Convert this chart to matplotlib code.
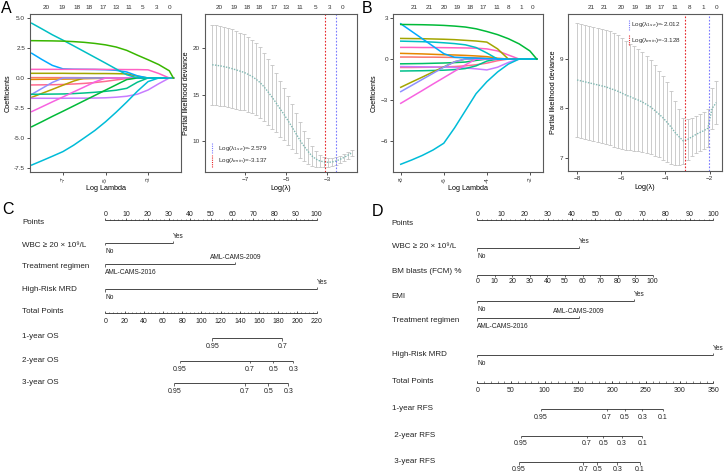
import numpy as np
import matplotlib
matplotlib.use("Agg")
import matplotlib.pyplot as plt

plt.rcParams['font.family'] = ['Liberation Sans', 'DejaVu Sans']

W, H = 726, 473

# ---------------- panel A: lasso coefficient paths ----------------
a_grid = [-8.47, -8.0, -7.5, -7.0, -6.5, -6.0, -5.5, -5.0, -4.5, -4.0, -3.5, -3.0, -2.5, -2.0, -1.81]
a_red = [0.03, 0.03, 0.03, 0.03, 0.03, 0.02, 0.02, 0.02, 0.02, 0.01, 0.01, 0, 0, 0, 0]
a_orange = [-0.12, -0.11, -0.10, -0.09, -0.08, -0.06, -0.04, -0.02, 0, 0, 0, 0, 0, 0, 0]
a_salmon = [-0.58, -0.57, -0.56, -0.54, -0.50, -0.45, -0.38, -0.28, -0.16, -0.05, 0, 0, 0, 0, 0]
a_cyan_top = [4.56, 4.10, 3.60, 3.15, 2.68, 2.20, 1.72, 1.24, 0.75, 0.27, 0, 0, 0, 0, 0]
a_green_top = [3.11, 3.10, 3.09, 3.07, 3.03, 2.97, 2.88, 2.76, 2.58, 2.30, 1.90, 1.52, 1.12, 0.60, 0]
a_blue = [2.06, 1.55, 1.05, 0.76, 0.73, 0.72, 0.71, 0.69, 0.64, 0.50, 0.18, 0, 0, 0, 0]
a_olive_top = [0.39, 0.39, 0.39, 0.39, 0.38, 0.38, 0.37, 0.37, 0.36, 0.34, 0.15, 0, 0, 0, 0]
a_olive_low = [-1.61, -1.29, -0.95, -0.60, -0.26, 0, 0, 0, 0, 0, 0, 0, 0, 0, 0]
a_purple = [-1.69, -1.69, -1.69, -1.69, -1.68, -1.68, -1.67, -1.65, -1.60, -1.52, -1.35, -1.00, -0.48, 0, 0]
a_violet = [-1.36, -0.88, -0.37, 0, 0, 0, 0, 0, 0, 0, 0, 0, 0, 0, 0]
a_green_mid = [-1.36, -1.35, -1.34, -1.33, -1.30, -1.25, -1.19, -1.11, -1.02, -0.86, -0.35, 0, 0, 0, 0]
a_magenta = [-2.80, -2.41, -1.99, -1.58, -1.16, -0.75, -0.33, 0, 0, 0, 0, 0, 0, 0, 0]
a_green_low = [-4.06, -3.65, -3.20, -2.77, -2.33, -1.89, -1.45, -1.01, -0.57, -0.13, 0, 0, 0, 0, 0]
a_cyan_low = [-7.25, -6.90, -6.52, -6.13, -5.60, -4.99, -4.37, -3.65, -2.85, -2.00, -1.10, -0.30, 0, 0, 0]
a_pink_top = [0.72, 0.72, 0.72, 0.72, 0.72, 0.72, 0.72, 0.71, 0.71, 0.70, 0.70, 0.68, 0.38, 0, 0]

a_df = [20, 19, 18, 18, 17, 13, 11, 5, 3, 0]
a_coef_df_x = [-7.77, -7.02, -6.35, -5.78, -5.12, -4.51, -3.89, -3.24, -2.62, -2.01]
a_cv_df_x = [-8.25, -7.52, -6.89, -6.31, -5.58, -5.0, -4.33, -3.55, -2.87, -2.27]

# panel A: cross-validation curve
a_cv_x = [-8.59, -8.40, -8.20, -8.01, -7.82, -7.62, -7.43, -7.24, -7.04, -6.85, -6.66, -6.46,
          -6.27, -6.08, -5.88, -5.69, -5.50, -5.30, -5.11, -4.92, -4.72, -4.53, -4.34, -4.14,
          -3.95, -3.76, -3.56, -3.37, -3.17, -2.98, -2.79, -2.59, -2.40, -2.21, -2.01, -1.82]
a_cv_mean = [18.20, 18.15, 18.08, 18.00, 17.90, 17.78, 17.65, 17.52, 17.38, 17.18, 16.95, 16.65,
             16.30, 15.85, 15.30, 14.75, 14.15, 13.50, 12.90, 12.25, 11.55, 10.85, 10.15, 9.50,
             8.95, 8.45, 8.10, 7.90, 7.80, 7.75, 7.78, 7.88, 8.05, 8.25, 8.50, 8.75]
a_cv_se = [4.30, 4.30, 4.28, 4.26, 4.23, 4.20, 4.16, 4.12, 4.07, 4.01, 3.94, 3.86,
           3.77, 3.66, 3.53, 3.38, 3.20, 3.00, 2.80, 2.60, 2.40, 2.15, 1.90, 1.62,
           1.35, 1.08, 0.85, 0.68, 0.57, 0.50, 0.46, 0.42, 0.39, 0.37, 0.35, 0.33]
a_lam_1se = -2.579
a_lam_min = -3.137

# ---------------- panel B ----------------
b_grid = [-8.0, -7.5, -7.0, -6.5, -6.0, -5.5, -5.0, -4.5, -4.0, -3.5, -3.0, -2.5, -2.0, -1.68]
b_red = [0.15, 0.15, 0.14, 0.14, 0.13, 0.12, 0.11, 0.09, 0.05, 0, 0, 0, 0, 0]
b_green_mid = [-0.35, -0.34, -0.33, -0.31, -0.29, -0.26, -0.22, -0.10, 0, 0, 0, 0, 0, 0]
b_pink_low = [-0.62, -0.62, -0.61, -0.60, -0.58, -0.55, -0.50, -0.42, -0.30, -0.12, 0, 0, 0, 0]
b_green_top = [2.55, 2.54, 2.53, 2.51, 2.48, 2.43, 2.36, 2.23, 2.03, 1.80, 1.50, 1.12, 0.60, 0]
b_blue = [2.60, 2.05, 1.50, 0.95, 0.40, 0.13, 0.10, 0.07, 0.04, 0, 0, 0, 0, 0]
b_olive_top = [1.52, 1.51, 1.50, 1.48, 1.46, 1.43, 1.38, 1.33, 1.25, 0.75, 0, 0, 0, 0]
b_teal = [1.32, 1.30, 1.28, 1.25, 1.20, 1.14, 1.05, 0.85, 0.45, 0, 0, 0, 0, 0]
b_pink_top = [0.86, 0.86, 0.85, 0.85, 0.84, 0.83, 0.82, 0.80, 0.75, 0.60, 0.30, 0, 0, 0]
b_orange = [0.42, 0.40, 0.38, 0.35, 0.32, 0.30, 0.27, 0.23, 0.18, 0.06, 0, 0, 0, 0]
b_lavender = [-0.55, -0.56, -0.57, -0.58, -0.60, -0.62, -0.66, -0.72, -0.80, -0.60, -0.25, 0, 0, 0]
b_green_low = [-0.88, -0.87, -0.86, -0.84, -0.82, -0.78, -0.70, -0.50, -0.15, 0, 0, 0, 0, 0]
b_olive_low = [-2.08, -1.70, -1.33, -0.95, -0.58, -0.20, 0, 0, 0, 0, 0, 0, 0, 0]
b_violet = [-2.40, -1.95, -1.50, -1.05, -0.60, -0.20, 0, 0, 0, 0, 0, 0, 0, 0]
b_magenta = [-3.26, -2.79, -2.32, -1.84, -1.37, -0.90, -0.43, 0, 0, 0, 0, 0, 0, 0]
b_cyan_low = [-7.75, -7.44, -7.10, -6.70, -6.20, -5.07, -3.81, -2.55, -1.67, -0.95, -0.37, 0, 0, 0]

b_df = [21, 21, 20, 19, 18, 17, 11, 8, 1, 0]
b_coef_df_x = [-7.39, -6.66, -6.0, -5.38, -4.77, -4.18, -3.54, -2.97, -2.41, -1.87]
b_cv_df_x = [-7.35, -6.75, -6.0, -5.39, -4.79, -4.18, -3.58, -2.9, -2.3, -1.69]

b_cv_x = [-8.00, -7.81, -7.63, -7.44, -7.26, -7.07, -6.89, -6.70, -6.52, -6.33, -6.15, -5.96,
          -5.78, -5.59, -5.41, -5.22, -5.04, -4.85, -4.67, -4.48, -4.30, -4.11, -3.93, -3.74,
          -3.56, -3.37, -3.19, -3.00, -2.82, -2.63, -2.45, -2.26, -2.08, -1.89, -1.70]
b_cv_mean = [8.58, 8.56, 8.54, 8.52, 8.50, 8.48, 8.46, 8.44, 8.41, 8.38, 8.35, 8.31,
             8.27, 8.24, 8.20, 8.17, 8.13, 8.08, 8.03, 7.96, 7.89, 7.81, 7.72, 7.62,
             7.51, 7.42, 7.34, 7.37, 7.42, 7.47, 7.51, 7.55, 7.60, 8.00, 8.12]
b_cv_se = [1.16, 1.16, 1.16, 1.16, 1.16, 1.16, 1.16, 1.16, 1.16, 1.16, 1.15, 1.13,
           1.11, 1.08, 1.06, 1.04, 1.02, 0.99, 0.96, 0.92, 0.88, 0.85, 0.81, 0.74,
           0.65, 0.56, 0.47, 0.42, 0.38, 0.37, 0.37, 0.37, 0.38, 0.42, 0.43]
b_lam_1se = -2.012
b_lam_min = -3.128

# ---------------- panel C: OS nomogram ----------------
c_points_ticks = [0, 10, 20, 30, 40, 50, 60, 70, 80, 90, 100]
c_wbc_pts = [0, 32.0]
c_wbc_lab = ['No', 'Yes']
c_reg_pts = [0, 61.5]
c_reg_lab = ['AML-CAMS-2016', 'AML-CAMS-2009']
c_mrd_pts = [0, 100]
c_mrd_lab = ['No', 'Yes']
c_total_ticks = [0, 20, 40, 60, 80, 100, 120, 140, 160, 180, 200, 220]
c_os1_prob = ['0.95', '0.7']
c_os1_tp = [111.3, 184.2]
c_os2_prob = ['0.95', '0.7', '0.5', '0.3']
c_os2_tp = [77.7, 150.2, 174.8, 195.6]
c_os3_prob = ['0.95', '0.7', '0.5', '0.3']
c_os3_tp = [71.8, 145.0, 169.6, 190.4]

# ---------------- panel D: RFS nomogram ----------------
d_points_ticks = [0, 10, 20, 30, 40, 50, 60, 70, 80, 90, 100]
d_wbc_pts = [0, 43.1]
d_wbc_lab = ['No', 'Yes']
d_blast_pct = [0, 10, 20, 30, 40, 50, 60, 70, 80, 90, 100]
d_blast_max_pts = 74.3
d_emi_pts = [0, 66.4]
d_emi_lab = ['No', 'Yes']
d_reg_pts = [0, 43.1]
d_reg_lab = ['AML-CAMS-2016', 'AML-CAMS-2009']
d_mrd_pts = [0, 100]
d_mrd_lab = ['No', 'Yes']
d_total_ticks = [0, 50, 100, 150, 200, 250, 300, 350]
d_rfs1_prob = ['0.95', '0.7', '0.5', '0.3', '0.1']
d_rfs1_tp = [94.5, 191.9, 219.0, 244.7, 275.0]
d_rfs2_prob = ['0.95', '0.7', '0.5', '0.3', '0.1']
d_rfs2_tp = [64.4, 162.2, 186.9, 214.1, 244.7]
d_rfs3_prob = ['0.95', '0.7', '0.5', '0.3', '0.1']
d_rfs3_tp = [61.4, 157.2, 178.0, 207.6, 241.3]

RED = '#e8262a'
BLUE = '#7a7aff'
FRAME = '#5a5a5a'
LC = '#2b2b2b'


def box(l, t, r, b):
    return [l / W, 1 - b / H, (r - l) / W, (b - t) / H]


def style(ax):
    for s in ax.spines.values():
        s.set_color(FRAME)
        s.set_linewidth(0.8)
    ax.tick_params(length=2, width=0.6, labelsize=4.6, colors='#333333', pad=1.5)


def df_labels(ax, xs, counts):
    for x, n in zip(xs, counts):
        ax.text(x, 1.025, str(n), transform=ax.get_xaxis_transform(),
                ha='center', va='bottom', fontsize=4.6, color='#333333')


def coef_panel(ax, grid, paths, xticks, df_x, df):
    for vals, col in paths:
        ax.plot(grid, vals, color=col, lw=1.1)
    style(ax)
    ax.set_xticks(xticks)
    ax.set_xticklabels([str(t) for t in xticks], rotation=90)
    ax.set_xlabel('Log Lambda', fontsize=5.2, labelpad=2)
    ax.set_ylabel('Coefficients', fontsize=5.2, labelpad=2)
    df_labels(ax, df_x, df)


def cv_panel(ax, x, mean, se, lmin, l1se, xticks, yticks, df_x, df):
    ax.errorbar(x, mean, yerr=se, fmt='none', ecolor='#c4c4c4', elinewidth=0.6,
                capsize=1.7, capthick=0.6)
    ax.plot(x, mean, ls=(0, (1, 1)), color='#7fb8b2', lw=1.0)
    ax.axvline(lmin, color=RED, ls=(0, (1.5, 1.5)), lw=0.8)
    ax.axvline(l1se, color=BLUE, ls=(0, (1.5, 1.5)), lw=0.8)
    style(ax)
    ax.set_xticks(xticks)
    ax.set_yticks(yticks)
    ax.set_xlabel('Log(λ)', fontsize=5.2, labelpad=2)
    ax.set_ylabel('Partial likelihood deviance', fontsize=5.2, labelpad=2)
    df_labels(ax, df_x, df)


def cv_key(ax, mx, tx, y_blue, y_red, l1se, lmin):
    tr = ax.transAxes
    ax.plot([mx, mx], y_blue, color=BLUE, ls=(0, (1, 1)), lw=0.8, transform=tr)
    ax.plot([mx, mx], y_red, color=RED, ls=(0, (1, 1)), lw=0.8, transform=tr)
    ax.text(tx, np.mean(y_blue), 'Log(λ$_{1se}$)=%.3f' % l1se, transform=tr,
            fontsize=4.6, va='center', color='#333333')
    ax.text(tx, np.mean(y_red), 'Log(λ$_{min}$)=%.3f' % lmin, transform=tr,
            fontsize=4.6, va='center', color='#333333')


fig = plt.figure(figsize=(W / 100, H / 100), dpi=100)

# A coefficients
axA1 = fig.add_axes(box(30, 14, 181, 172))
a_paths = [(a_red, '#F8766D'), (a_orange, '#E58700'), (a_salmon, '#FF6C91'),
           (a_olive_top, '#A3A500'), (a_olive_low, '#B79F00'), (a_violet, '#8F91FF'),
           (a_green_mid, '#00C08B'), (a_purple, '#C77CFF'), (a_magenta, '#F763E0'),
           (a_green_low, '#00BA38'), (a_cyan_low, '#00BCD8'), (a_blue, '#00A9FF'),
           (a_pink_top, '#FF61C3'), (a_cyan_top, '#00BFC4'), (a_green_top, '#39B600')]
coef_panel(axA1, a_grid, a_paths, [-7, -5, -3], a_coef_df_x, a_df)
axA1.set_xlim(-8.55, -1.45)
axA1.set_ylim(-7.83, 5.33)
axA1.set_yticks([-7.5, -5.0, -2.5, 0.0, 2.5, 5.0])
axA1.set_yticklabels(['-7.5', '-5.0', '-2.5', '0.0', '2.5', '5.0'])

# A cross validation
axA2 = fig.add_axes(box(205, 14, 357, 172))
cv_panel(axA2, a_cv_x, a_cv_mean, a_cv_se, a_lam_min, a_lam_1se, [-7, -5, -3], [10, 15, 20],
         a_cv_df_x, a_df)
axA2.set_xlim(-8.94, -1.56)
axA2.set_ylim(6.71, 23.64)
cv_key(axA2, 0.046, 0.086, [0.118, 0.182], [0.033, 0.108], a_lam_1se, a_lam_min)

# B coefficients
axB1 = fig.add_axes(box(393, 14, 543, 172))
b_paths = [(b_red, '#F8766D'), (b_green_mid, '#00BE67'), (b_pink_low, '#FF6C91'),
           (b_orange, '#E58700'), (b_lavender, '#C77CFF'), (b_green_low, '#00C08B'),
           (b_olive_low, '#A3A500'), (b_violet, '#8F91FF'), (b_magenta, '#F763E0'),
           (b_pink_top, '#FF61C3'), (b_teal, '#00BFC4'), (b_olive_top, '#A3A500'),
           (b_blue, '#00A9FF'), (b_cyan_low, '#00BCD8'), (b_green_top, '#00BA38')]
coef_panel(axB1, b_grid, b_paths, [-8, -6, -4, -2], b_coef_df_x, b_df)
axB1.set_xlim(-8.36, -1.39)
axB1.set_ylim(-8.32, 3.32)
axB1.set_yticks([-6, -3, 0, 3])

# B cross validation
axB2 = fig.add_axes(box(568, 14, 722, 171))
cv_panel(axB2, b_cv_x, b_cv_mean, b_cv_se, b_lam_min, b_lam_1se, [-8, -6, -4, -2], [7, 8, 9],
         b_cv_df_x, b_df)
axB2.set_xlim(-8.41, -1.44)
axB2.set_ylim(6.73, 9.92)
cv_key(axB2, 0.396, 0.41, [0.90, 0.965], [0.80, 0.866], b_lam_1se, b_lam_min)

# panel letters
for lab, x, y in [('A', 1, 1), ('B', 362, 1), ('C', 2, 202), ('D', 372, 204)]:
    fig.text(x / W, 1 - y / H, lab, fontsize=11.5, ha='left', va='top')


# ---------------- nomogram helpers ----------------
def nomo_axes(l_px, r_px, zero_px, px_per_pt):
    ax = fig.add_axes(box(l_px, 200, r_px, H))
    ax.set_xlim((l_px - zero_px) / px_per_pt, (r_px - zero_px) / px_per_pt)
    ax.set_ylim(H, 200)
    ax.axis('off')
    return ax


def row_name(ax, xfrac, y, text):
    ax.text(xfrac, y, text, transform=ax.get_yaxis_transform(), fontsize=5.8,
            ha='left', va='center', color='#222222')


def scale_row(ax, y, xs, labels, up, dy, minor=None, fs=5):
    sgn = -1 if up else 1
    ax.plot([min(xs), max(xs)], [y, y], color=LC, lw=0.6, solid_capstyle='butt')
    ax.vlines(xs, y, y + sgn * 2.2, color=LC, lw=0.5)
    if minor is not None:
        ax.vlines(minor, y, y + sgn * 1.3, color=LC, lw=0.4)
    for x, t in zip(xs, labels):
        ax.text(x, y + dy, t, ha='center', va='center', fontsize=fs, color='#222222')


def cat_row(ax, y, xs, labels, end_ha='left'):
    ax.plot(xs, [y, y], color=LC, lw=0.6, solid_capstyle='butt')
    ax.vlines([xs[0]], y, y + 2.2, color=LC, lw=0.5)
    ax.vlines([xs[1]], y, y - 2.2, color=LC, lw=0.5)
    ax.text(xs[0], y + 8.5, labels[0], ha='left', va='center', fontsize=4.8, color='#222222')
    ax.text(xs[1], y - 6.5, labels[1], ha=end_ha, va='center', fontsize=4.8, color='#222222')


def minor_ticks(lo, hi, step):
    return np.arange(lo, hi + step / 2, step)


# ---------------- C ----------------
axC = nomo_axes(0, 360, 105.3, 2.114)
lx = 22 / 360
c_tp = 100 / c_total_ticks[-1]
row_name(axC, lx, 222.7, 'Points')
scale_row(axC, 220, c_points_ticks, [str(v) for v in c_points_ticks], True, -6,
          minor=minor_ticks(0, 100, 2))
row_name(axC, lx, 245, 'WBC ≥ 20 × 10⁹/L')
cat_row(axC, 242.7, c_wbc_pts, c_wbc_lab)
row_name(axC, lx, 266.7, 'Treatment regimen')
cat_row(axC, 264.3, c_reg_pts, c_reg_lab, end_ha='center')
row_name(axC, lx, 289.3, 'High-Risk MRD')
cat_row(axC, 289.3, c_mrd_pts, c_mrd_lab)
row_name(axC, lx, 311.7, 'Total Points')
scale_row(axC, 313.3, [v * c_tp for v in c_total_ticks], [str(v) for v in c_total_ticks], True, 8.4,
          minor=minor_ticks(0, 220, 4) * c_tp)
row_name(axC, lx, 336.7, '1-year OS')
scale_row(axC, 338.3, [v * c_tp for v in c_os1_tp], c_os1_prob, False, 8)
row_name(axC, lx, 360, '2-year OS')
scale_row(axC, 361, [v * c_tp for v in c_os2_tp], c_os2_prob, False, 8)
row_name(axC, lx, 382.3, '3-year OS')
scale_row(axC, 383.3, [v * c_tp for v in c_os3_tp], c_os3_prob, False, 8)

# ---------------- D ----------------
axD = nomo_axes(360, 726, 477.3, 2.36)
lx = 31.7 / 366
d_tp = 100 / d_total_ticks[-1]
row_name(axD, lx, 223.3, 'Points')
scale_row(axD, 220, d_points_ticks, [str(v) for v in d_points_ticks], True, -6,
          minor=minor_ticks(0, 100, 2))
row_name(axD, lx, 246.7, 'WBC ≥ 20 × 10⁹/L')
cat_row(axD, 248.3, d_wbc_pts, d_wbc_lab)
row_name(axD, lx, 271.7, 'BM blasts (FCM) %')
scale_row(axD, 275, [v * d_blast_max_pts / 100 for v in d_blast_pct],
          [str(v) for v in d_blast_pct], False, 6.7)
row_name(axD, lx, 296.7, 'EMI')
cat_row(axD, 301, d_emi_pts, d_emi_lab)
row_name(axD, lx, 320, 'Treatment regimen')
cat_row(axD, 318.3, d_reg_pts, d_reg_lab, end_ha='center')
row_name(axD, lx, 354, 'High-Risk MRD')
cat_row(axD, 355, d_mrd_pts, d_mrd_lab)
row_name(axD, lx, 381.7, 'Total Points')
scale_row(axD, 382.7, [v * d_tp for v in d_total_ticks], [str(v) for v in d_total_ticks], True, 7.5,
          minor=minor_ticks(0, 350, 10) * d_tp)
row_name(axD, lx, 408.3, '1-year RFS')
scale_row(axD, 409, [v * d_tp for v in d_rfs1_tp], d_rfs1_prob, False, 8)
row_name(axD, lx, 435, ' 2-year RFS')
scale_row(axD, 435.7, [v * d_tp for v in d_rfs2_tp], d_rfs2_prob, False, 8)
row_name(axD, lx, 461.7, ' 3-year RFS')
scale_row(axD, 462.3, [v * d_tp for v in d_rfs3_tp], d_rfs3_prob, False, 7)

fig.savefig('out.png', dpi=100)
